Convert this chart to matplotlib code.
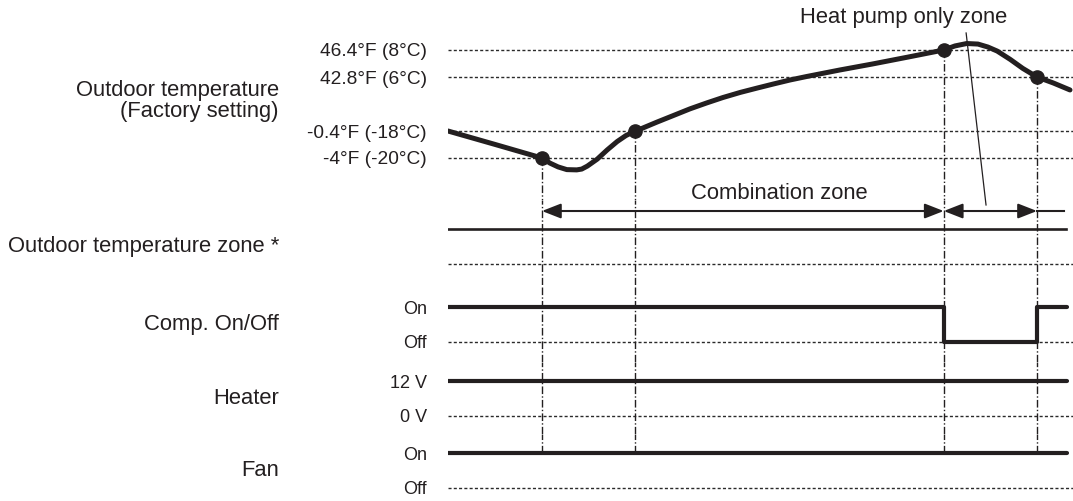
import matplotlib.pyplot as plt

plt.rcParams['font.family'] = ['Liberation Sans', 'DejaVu Sans']

INK = '#231f20'

# outdoor temperature trace (time in arbitrary units, level in diagram steps)
curve_t = [0, 7.6, 15.1, 16.4, 17.7, 19.1, 20.7, 21.5, 22.4, 24.0, 25.6, 27.2,
           28.6, 30.1, 30.9, 33.6, 36.2, 38.9, 41.6, 44.2, 47.0, 49.7, 52.3,
           55.0, 57.7, 63.0, 68.2, 74.0, 79.7, 81.5, 83.4, 85.2, 86.8, 88.3,
           90.4, 92.4, 94.7, 97.3, 100.0]
curve_lvl = [1.0, 0.5, 0.0, -0.19, -0.33, -0.43, -0.44, -0.41, -0.30, -0.04, 0.30,
             0.61, 0.83, 1.0, 1.07, 1.33, 1.57, 1.82, 2.04, 2.24, 2.43, 2.59, 2.74,
             2.89, 3.02, 3.26, 3.48, 3.74, 4.0, 4.15, 4.24, 4.22, 4.11, 3.96,
             3.65, 3.32, 3.0, 2.78, 2.52]

temp_levels = [4, 3, 1, 0]
temp_labels = ['46.4°F (8°C)', '42.8°F (6°C)', '-0.4°F (-18°C)', '-4°F (-20°C)']

# switching points on the trace
event_t = [15.1, 30.1, 79.7, 94.7]
event_lvl = [0, 1, 4, 3]

# signals
comp_t = [0, 79.7, 94.7, 99.5]
comp_state = [1, 0, 1, 1]
heater_t = [0, 99.5]
heater_state = [1, 1]
fan_t = [0, 99.5]
fan_state = [1, 1]
zone_end = 99.4

W, H = 1073, 501
X0 = 448                # left edge of trace area (px)
PX_PER_T = 6.22
PT = 72 / 100           # px -> points

fig = plt.figure(figsize=(W / 100, H / 100), dpi=100)
fig.patch.set_facecolor('white')


def add_row(top, bottom, zero_px, px_per_unit):
    ax = fig.add_axes([X0 / W, 1 - bottom / H, (W - X0) / W, (bottom - top) / H])
    ax.set_xlim(0, (W - X0) / PX_PER_T)
    ax.set_ylim((zero_px - bottom) / px_per_unit, (zero_px - top) / px_per_unit)
    ax.set_frame_on(False)
    ax.set_xticks([])
    ax.tick_params(axis='y', length=0, pad=21 * PT, colors=INK)
    return ax


def dotted(ax, y):
    ax.axhline(y, color='#2a2a2a', lw=1.0, ls=(0, (2.2, 1.6)), zorder=1)


def row_label(ax, text, y):
    ax.annotate(text, xy=(0, y), xycoords=ax.get_yaxis_transform(),
                xytext=(-169 * PT, 0), textcoords='offset points',
                ha='right', va='center', fontsize=15.8, color=INK,
                multialignment='right', linespacing=1.03)


dashdot = dict(color=INK, lw=1.0, ls=(0, (5.5, 1.6, 1.0, 1.6)), zorder=1)

# --- temperature panel ---
ax_t = add_row(0, 200, 158, 27)
for lv in temp_levels:
    dotted(ax_t, lv)
ax_t.set_yticks(temp_levels, temp_labels, fontsize=13.8)
ax_t.plot(curve_t, curve_lvl, color=INK, lw=3.6, solid_capstyle='round',
          solid_joinstyle='round', zorder=3)
ax_t.plot(event_t, event_lvl, 'o', color=INK, ms=9.5, zorder=4)
ax_t.vlines(event_t, event_lvl, ax_t.get_ylim()[0], **dashdot)
row_label(ax_t, 'Outdoor temperature\n(Factory setting)', 2.11)
ax_t.text(73.2, 5.22, 'Heat pump only zone', ha='center', va='center',
          fontsize=15.8, color=INK)
ax_t.text(53.2, -1.30, 'Combination zone', ha='center', va='center',
          fontsize=15.8, color=INK)
ax_t.plot([83.3, 86.5], [4.63, -1.74], color=INK, lw=0.9, clip_on=False)

# --- outdoor temperature zone ---
ax_z = add_row(200, 285, 264, 35)
ax_z.set_yticks([])
dotted(ax_z, 0)
ax_z.plot([0, zone_end], [1, 1], color=INK, lw=1.9, zorder=3)
arrow = dict(arrowstyle='<|-|>,head_length=1.15,head_width=0.45', color=INK,
             lw=1.5, shrinkA=0, shrinkB=0, mutation_scale=10)
ax_z.annotate('', xy=(event_t[0], 1.514), xytext=(event_t[2], 1.514),
              arrowprops=arrow, annotation_clip=False)
ax_z.annotate('', xy=(event_t[2], 1.514), xytext=(event_t[3], 1.514),
              arrowprops=arrow, annotation_clip=False)
ax_z.plot([event_t[3], zone_end - 0.3], [1.514, 1.514], color=INK, lw=1.5)
ax_z.vlines(event_t, *ax_z.get_ylim(), **dashdot)
row_label(ax_z, 'Outdoor temperature zone *', 0.5)

# --- signal rows ---
rows = [
    ('Comp. On/Off', ['On', 'Off'], comp_t, comp_state, 285, 362, 342),
    ('Heater', ['12 V', '0 V'], heater_t, heater_state, 362, 434, 416),
    ('Fan', ['On', 'Off'], fan_t, fan_state, 434, 501, 488),
]
for name, labels, t, state, top, bottom, zero in rows:
    ax = add_row(top, bottom, zero, 35)
    dotted(ax, 0)
    ax.set_yticks([1, 0], labels, fontsize=13)
    ax.plot(t, state, color=INK, lw=3.0, drawstyle='steps-post',
            solid_capstyle='round', zorder=3)
    lo = 1 if name == 'Fan' else ax.get_ylim()[0]
    ax.vlines(event_t, lo, ax.get_ylim()[1], **dashdot)
    row_label(ax, name, 0.5)

fig.savefig('out.png', dpi=100)
